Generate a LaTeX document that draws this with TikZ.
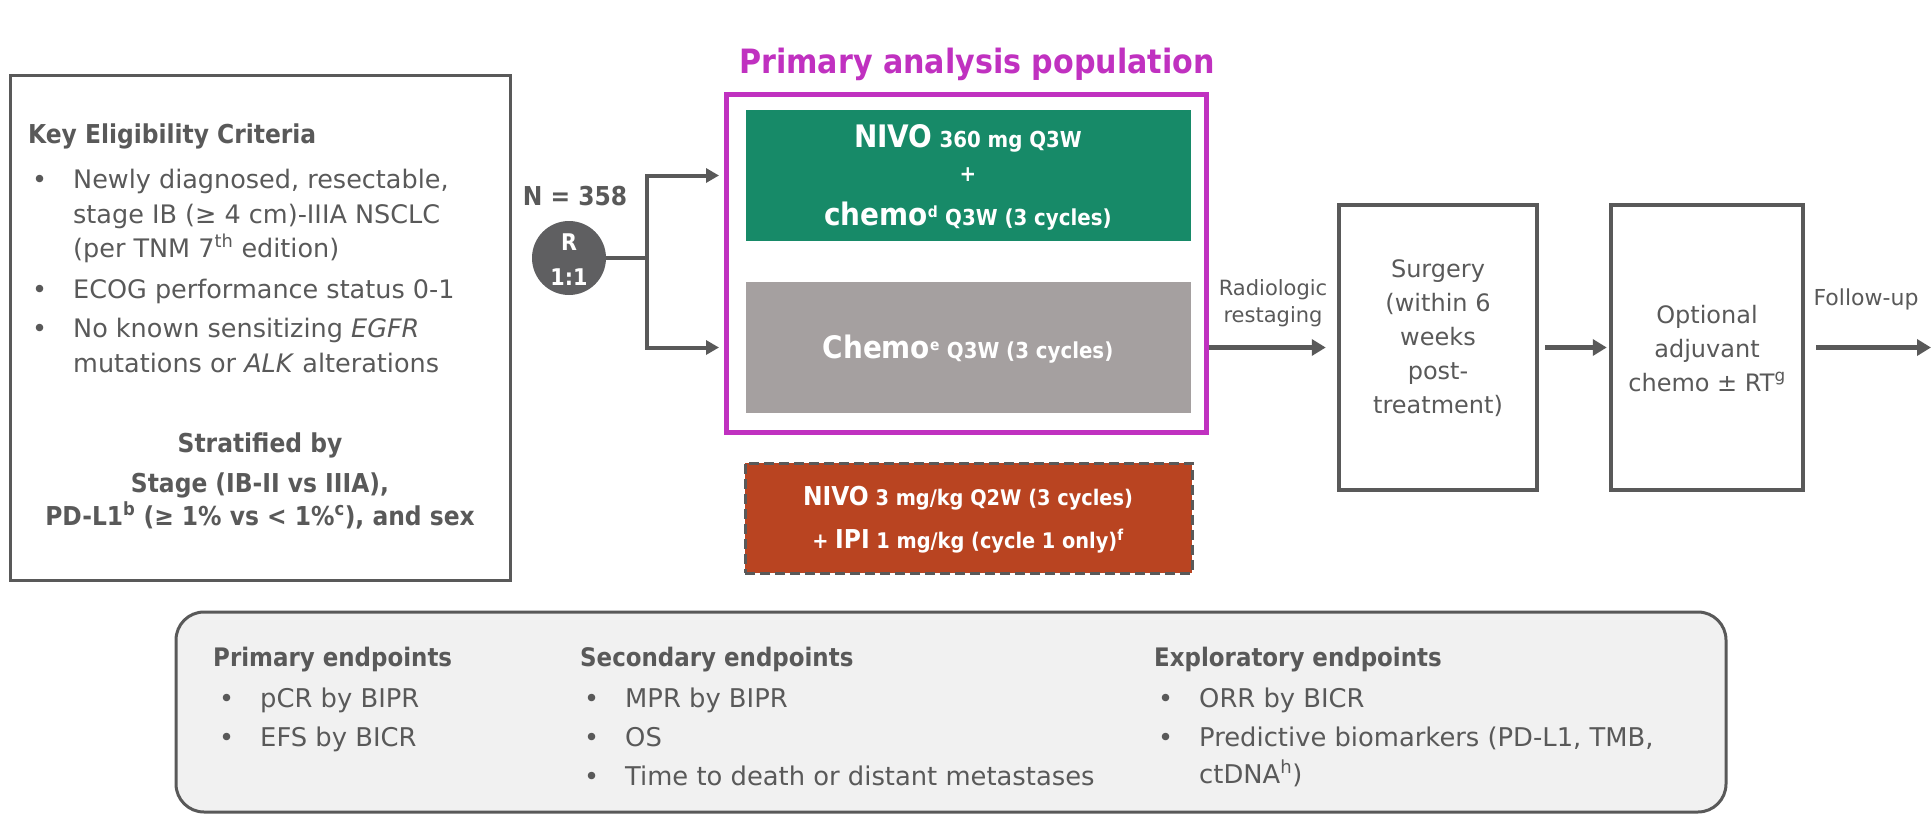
\documentclass[tikz,border=0pt]{standalone}
\usepackage{fontspec}
\setmainfont{DejaVu Sans}[BoldFont={DejaVu Sans Condensed Bold},ItalicFont={DejaVu Sans Oblique}]
\usetikzlibrary{arrows.meta}
\definecolor{ink}{HTML}{595959}
\definecolor{popcol}{HTML}{C031C0}
\definecolor{nivocol}{HTML}{178A68}
\definecolor{chemocol}{HTML}{A5A0A0}
\definecolor{ipicol}{HTML}{B94421}
\definecolor{randcol}{HTML}{5F5F61}
\definecolor{endcol}{HTML}{F1F1F1}
\newcommand{\fsz}[2]{\fontsize{#1}{#2}\selectfont}

\begin{document}
\begin{tikzpicture}[x = 1pt, y = -1pt, font = \fsz{25.5}{30}, text = ink,
  every node/.style = {inner sep = 0pt},
  box/.style = {draw = ink, line width = 3.5pt},
  txt/.style = {anchor = base west},
  mid/.style = {anchor = base},
  head/.style = {font = \bfseries\fsz{26}{30}},
  arm/.style = {minimum width = 445pt, minimum height = 131pt},
  armtxt/.style = {anchor = base, text = white, font = \bfseries\fsz{22}{26}},
  big/.style = {font = \fsz{21}{27}},
  flow/.style = {draw = ink, line width = 5pt, -{Triangle[length = 14pt, width = 16pt]}},
  branch/.style = {draw = ink, line width = 4pt, -{Triangle[length = 13pt, width = 14pt]}}]
\useasboundingbox (0, 0) rectangle (1931, 814);

\node[box, line width = 3pt, minimum width = 500pt, minimum height = 505pt] (elig) at (260, 327.5) {};
\node[txt, head] (eligtitle) at (28, 143) {Key Eligibility Criteria};
\foreach \y in {188, 298, 337}
  \node[txt] (eligdot\y) at (32, \y) {•};
\node[txt] (crit1) at (73, 188) {Newly diagnosed, resectable,};
\node[txt] (crit1b) at (73, 223) {stage IB (≥ 4 cm)-IIIA NSCLC};
\node[txt] (crit1c) at (73, 257) {(per TNM 7\textsuperscript{th} edition)};
\node[txt] (crit2) at (73, 298) {ECOG performance status 0-1};
\node[txt] (crit3) at (73, 337) {No known sensitizing \textit{EGFR}};
\node[txt] (crit3b) at (73, 372) {mutations or \textit{ALK} alterations};
\node[mid, head] (strat1) at (260, 452) {Stratified by};
\node[mid, head] (strat2) at (260, 492) {Stage (IB-II vs IIIA),};
\node[mid, head] (strat3) at (260, 525) {PD-L1\textsuperscript{b} (≥ 1\% vs < 1\%\textsuperscript{c}), and sex};

\node[mid, head] (count) at (575, 205) {N = 358};
\node[circle, fill = randcol, minimum size = 74pt] (rand) at (569, 258) {};
\node[mid, text = white, font = \bfseries\fsz{23}{26}] (randR) at (569, 250) {R};
\node[mid, text = white, font = \bfseries\fsz{23}{26}] (randratio) at (569, 285) {1:1};

\node[mid, text = popcol, font = \bfseries\fsz{33.5}{40}] (poptitle) at (977, 73) {Primary analysis population};
\node[draw = popcol, line width = 5pt, minimum width = 480pt, minimum height = 338pt] (pop) at (966, 263) {};
\node[arm, fill = nivocol] (nivo) at (968.5, 175.5) {};
\node[armtxt] (nivo1) at (968, 147) {{\fsz{31}{36}NIVO} 360 mg Q3W};
\node[armtxt] (nivo2) at (968, 181) {+};
\node[armtxt] (nivo3) at (968, 225) {{\fsz{31}{36}chemo}\textsuperscript{d} Q3W (3 cycles)};
\node[arm, fill = chemocol] (chemo) at (968.5, 347.5) {};
\node[armtxt] (chemo1) at (968, 358) {{\fsz{31}{36}Chemo}\textsuperscript{e} Q3W (3 cycles)};

\node[draw = ink, dash pattern = on 10pt off 5pt, line width = 3pt, fill = ipicol, minimum width = 447pt, minimum height = 110pt] (ipi) at (968.5, 518) {};
\node[armtxt, font = \bfseries\fsz{21.5}{26}] (ipi1) at (968, 505) {{\fsz{26}{30}NIVO} 3 mg/kg Q2W (3 cycles)};
\node[armtxt, font = \bfseries\fsz{21.5}{26}] (ipi2) at (968, 548) {+ {\fsz{26}{30}IPI} 1 mg/kg (cycle 1 only)\textsuperscript{f}};

\node[box, minimum width = 198pt, minimum height = 285pt] (surg) at (1438, 347.5) {};
\foreach \t [count = \i] in {{Surgery}, {(within 6}, {weeks}, {post-}, {treatment)}}
  \node[mid, font = \fsz{24}{30}] (surg\i) at (1438, 243 + 34*\i) {\t};
\node[box, minimum width = 192pt, minimum height = 285pt] (opt) at (1707, 347.5) {};
\node[mid, font = \fsz{24}{30}] (opt1) at (1707, 323) {Optional};
\node[mid, font = \fsz{24}{30}] (opt2) at (1707, 357) {adjuvant};
\node[mid, font = \fsz{24}{30}] (opt3) at (1707, 391) {chemo ± RT\textsuperscript{g}};

\coordinate (split) at (647, 258);
\draw[branch, shorten >= 4.5pt] (rand.east) -- (split) |- (pop.west |- nivo.west);
\draw[branch, shorten >= 4.5pt] (split) |- (pop.west |- chemo.west);
\draw[flow, shorten >= 11.5pt] (pop.east |- surg.west) -- (surg.west);
\node[mid, big] (restage1) at (1273, 295) {Radiologic};
\node[mid, big] (restage2) at (1273, 322) {restaging};
\draw[flow, shorten <= 6.5pt, shorten >= 2.5pt] (surg.east) -- (opt.west);
\coordinate (fup) at (1931, 347.5);
\draw[flow, shorten <= 11.5pt] (opt.east) -- (fup);
\node[mid, font = \fsz{22}{27}] (fuplabel) at (1866, 305) {Follow-up};

\node[draw = ink, line width = 3pt, fill = endcol, rounded corners = 28pt, minimum width = 1550pt, minimum height = 200pt] (ends) at (951, 712) {};
\node[txt, head, font = \bfseries\fsz{25.5}{30}] (prim) at (213, 666) {Primary endpoints};
\node[txt, head, font = \bfseries\fsz{25.5}{30}] (sec) at (580, 666) {Secondary endpoints};
\node[txt, head, font = \bfseries\fsz{25.5}{30}] (expl) at (1154, 666) {Exploratory endpoints};
\foreach \bx/\y/\t [count = \i] in {219/707/{pCR by BIPR}, 219/746/{EFS by BICR},
    584/707/{MPR by BIPR}, 584/746/{OS}, 584/785/{Time to death or distant metastases},
    1158/707/{ORR by BICR}, 1158/746/{Predictive biomarkers (PD-L1, TMB,}} {
  \node[txt] (epdot\i) at (\bx, \y) {•};
  \node[txt, font = \fsz{25.8}{30}] (ep\i) at (\bx + 41, \y) {\t};
}
\node[txt, font = \fsz{25.8}{30}] (ep8) at (1199, 783) {ctDNA\textsuperscript{h})};
\end{tikzpicture}
\end{document}
